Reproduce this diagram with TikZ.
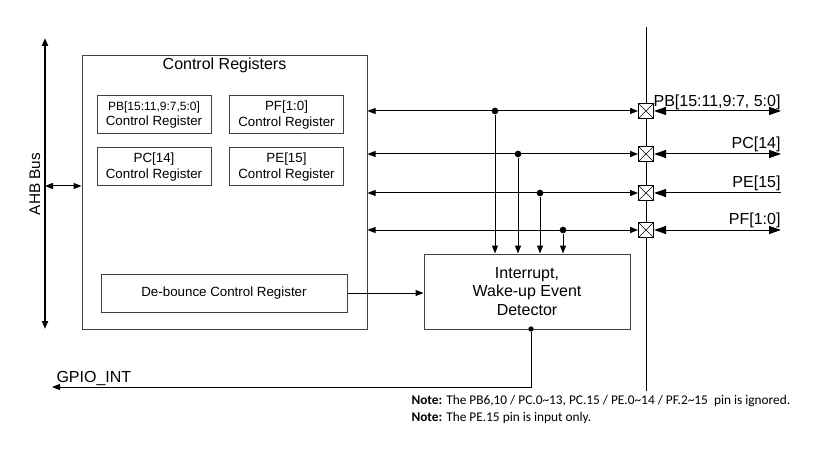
\documentclass[tikz,border=0pt]{standalone}
\usepackage{fontspec}
\setmainfont{Liberation Sans}
\newfontfamily\notefont{Carlito}
\usetikzlibrary{arrows.meta,positioning}
\colorlet{boxline}{black!75}
\tikzset{
  box/.style={draw=boxline,inner sep=0pt,align=center},
  reg/.style={box,minimum width=85.5pt,minimum height=28.5pt,font=\fontsize{10}{11.5}\selectfont},
  pin/.style={draw,fill=white,minimum size=11.25pt,inner sep=0pt,
    path picture={\draw[line width=0.5pt] (path picture bounding box.north west)--(path picture bounding box.south east)
      (path picture bounding box.north east)--(path picture bounding box.south west);}},
  tap/.style={circle,fill,inner sep=0pt,minimum size=5pt},
  big/.style={{Triangle[length=9pt,width=6pt]}-{Triangle[length=9pt,width=6pt]}},
  bigin/.style={{Triangle[length=9pt,width=6pt]}-},
  pinlbl/.style={anchor=base east,inner sep=0pt},
  note/.style={anchor=base west,inner sep=0pt,font=\notefont\fontsize{10}{12}\selectfont}
}
\begin{document}
\begin{tikzpicture}[x=0.75pt,y=-0.75pt,line width=0.75pt,>={Triangle[length=6pt,width=4.5pt]},
  font=\fontsize{12}{14}\selectfont]
\useasboundingbox (0,0) rectangle (823,452);
% AHB bus
\coordinate (bustop) at (45,38);
\coordinate (busbot) at (45,329);
\coordinate (busin) at (45,186);
\draw[<->,line width=1.5pt] (bustop)--(busbot);
\node[rotate=90,font=\fontsize{11.5}{13}\selectfont] (ahb) at (35,184) {AHB Bus};
% control registers
\node[box,minimum width=213.75pt,minimum height=204.75pt] (ctrl) at (224.5,192.5) {};
\node[anchor=north,inner sep=0pt] (title) at ([yshift=-1.5pt]ctrl.north) {Control Registers};
\draw[<->] (busin)--(busin-|ctrl.west);
\node[reg,font=\fontsize{9}{11.5}\selectfont] (pbreg) at (154,115) {PB[15:11,9:7,5:0]\\\fontsize{10}{11.5}\selectfont Control Register};
\node[reg] (pfreg) at (286.5,115) {PF[1:0]\\Control Register};
\node[reg] (pcreg) at (154,167) {PC[14]\\Control Register};
\node[reg] (pereg) at (286.5,167) {PE[15]\\Control Register};
\node[reg,minimum width=184.5pt] (deb) at (224,293) {De-bounce Control Register};
% detector
\node[box,minimum width=154.5pt,minimum height=56.25pt] (det) at (527,291.5) {Interrupt,\\Wake-up Event\\Detector};
\draw[->] (deb.east)--(deb.east-|det.west);
% pins
\coordinate (pintop) at (646,27);
\coordinate (pinbot) at (646,391);
\draw (pintop)--(pinbot);
\node[pin] (pinb) at (646,111) {};
\node[pin] (pinc) at (646,154) {};
\node[pin] (pine) at (646,193) {};
\node[pin] (pinf) at (646,230) {};
\draw[<->] (ctrl.east|-pinb)--(pinb.west);
\draw[<->] (ctrl.east|-pinc)--(pinc.west);
\draw[<->] (ctrl.east|-pine)--(pine.west);
\draw[<->] (ctrl.east|-pinf)--(pinf.west);
\coordinate (outb) at (781,111);
\coordinate (outc) at (781,154);
\coordinate (oute) at (781,193);
\coordinate (outf) at (781,230);
\draw[big] (pinb.east)--(outb);
\draw[big] (pinc.east)--(outc);
\draw[bigin] (pine.east)--(oute);
\draw[big] (pinf.east)--(outf);
\node[pinlbl] (lblb) at ([yshift=3pt]outb) {PB[15:11,9:7, 5:0]};
\node[pinlbl] (lblc) at ([yshift=4pt]outc) {PC[14]};
\node[pinlbl] (lble) at ([yshift=4pt]oute) {PE[15]};
\node[pinlbl] (lblf) at ([yshift=4pt]outf) {PF[1:0]};
% taps into detector
\node[tap] (tapb) at (495,111) {};
\node[tap] (tapc) at (518,154) {};
\node[tap] (tape) at (540,193) {};
\node[tap] (tapf) at (563,230) {};
\draw[->] (tapb)--(tapb|-det.north);
\draw[->] (tapc)--(tapc|-det.north);
\draw[->] (tape)--(tape|-det.north);
\draw[->] (tapf)--(tapf|-det.north);
% interrupt out
\node[tap,minimum size=4pt] (irq) at (531,329) {};
\coordinate (gpio) at (52,387);
\draw[->] (irq)|-(gpio);
\node[anchor=base west,inner sep=0pt] (gpiolbl) at (56,382) {GPIO\_INT};
% notes
\node[note] (note1) at (411,404)
  {\textbf{Note:} The PB6,10 / PC.0\textasciitilde13, PC.15 / PE.0\textasciitilde14 / PF.2\textasciitilde15\ \ pin is ignored.};
\node[note] (note2) at (411,421) {\textbf{Note:} The PE.15 pin is input only.};
\end{tikzpicture}
\end{document}
